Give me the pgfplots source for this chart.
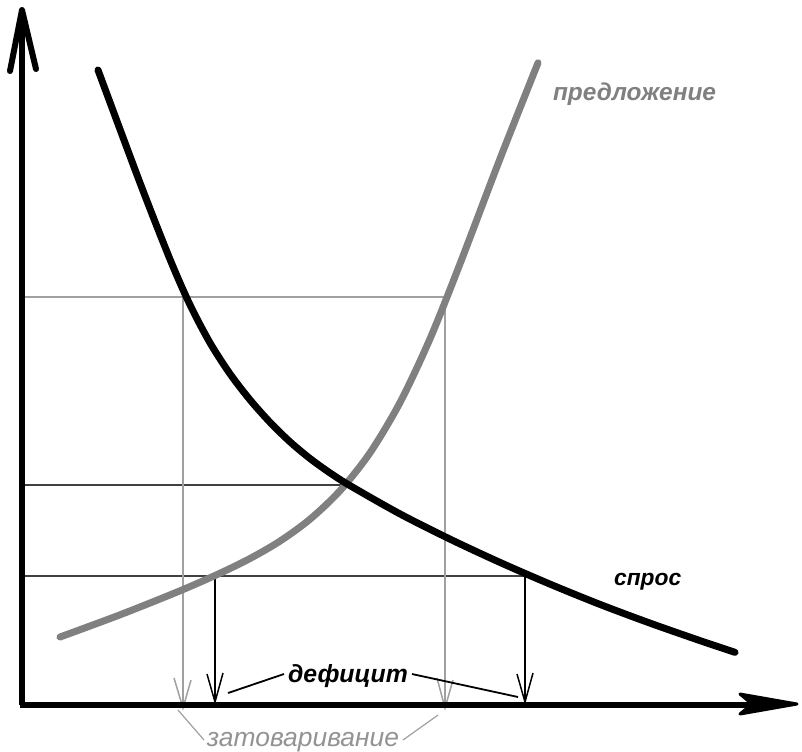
\documentclass[border=0pt]{standalone}
\usepackage{pgfplots}
\pgfplotsset{compat=1.18}
\usepackage{fontspec}
\setmainfont{Liberation Sans}
\definecolor{supgray}{HTML}{808080}
\definecolor{lgray}{HTML}{A0A0A0}
\definecolor{dgray}{HTML}{404040}
\begin{document}
\begin{tikzpicture}
\begin{axis}[
  name=ax,
  scale only axis, width=401pt, height=375.5pt,
  xmin=0, xmax=802, ymin=0, ymax=751, y dir=reverse,
  hide axis, clip=false,
]
% grid/helper lines
\addplot[lgray, line width=0.75pt] coordinates {(22,297) (447,297)};
\addplot[dgray, line width=0.75pt] coordinates {(22,485) (345,485)};
\addplot[dgray, line width=0.75pt] coordinates {(22,576) (526,576)};
\addplot[lgray, line width=0.75pt] coordinates {(183,297) (183,705)};
\addplot[lgray, line width=0.75pt] coordinates {(445,297) (445,705)};
\addplot[black, line width=0.75pt] coordinates {(215,576) (215,703)};
\addplot[black, line width=0.75pt] coordinates {(525,576) (525,703)};
% arrow heads (open V)
\addplot[lgray, line width=0.75pt] coordinates {(174,678) (183,708) (191,680)};
\addplot[lgray, line width=0.75pt] coordinates {(437,678) (445,708) (453,680)};
\addplot[black, line width=0.75pt] coordinates {(207,674) (215,702) (223,673)};
\addplot[black, line width=0.75pt] coordinates {(517,674) (525,702) (533,673)};
% label leader lines
\addplot[black, line width=0.9pt] coordinates {(228,693) (284,674)};
\addplot[black, line width=0.9pt] coordinates {(412,674) (518,697)};
\addplot[lgray, line width=0.6pt] coordinates {(178,710) (204,740)};
\addplot[lgray, line width=0.6pt] coordinates {(403,740) (438,715)};
% axes
\addplot[black, line width=3pt] coordinates {(22,12) (22,705)};
\addplot[black, line width=3pt] coordinates {(20,705) (760,705)};
\addplot[black, line width=3pt, line cap=round, line join=round] coordinates {(10,71) (22,10) (36,69)};
\addplot[black, fill=black, line width=1.5pt, line join=round] coordinates {(740,694) (797,704) (740,714) (752,704)} -- cycle;
% supply
\addplot[supgray, line width=3.5pt, smooth, line cap=round] coordinates {
(60,637) (120,614.8) (180,590.8) (220,573.2) (250,558.5) (280,541.1) (310,519.2)
(340,490.7) (370,452.8) (400,402.5) (430,338.8) (460,263.8) (500,158.8) (538,62.8)};
% demand
\addplot[black, line width=3.5pt, smooth, line cap=round] coordinates {
(98,70) (140,182.8) (170,259.3) (190,304.8) (210,342.8) (230,373.8) (250,399.8)
(270,422.3) (290,441.8) (310,458.5) (330,472.9) (350,485.6) (400,513.9) (450,539.1)
(500,562.4) (550,584.1) (600,604.4) (650,623.1) (700,640.6) (735,652.3)};
% labels
\node[font=\fontsize{12.4}{14}\selectfont\bfseries\itshape, anchor=base] at (axis cs:348,682) {дефицит};
\node[font=\fontsize{13.2}{14}\selectfont\itshape, text=supgray!85, anchor=base] at (axis cs:303,746) {затоваривание};
\node[font=\fontsize{12.2}{14}\selectfont\bfseries\itshape, text=supgray, anchor=base west] at (axis cs:546,100) {предложение};
\node[font=\fontsize{11.4}{14}\selectfont\bfseries\itshape, anchor=base west] at (axis cs:607,585) {спрос};
\end{axis}
\pgfresetboundingbox
\path (ax.south west) rectangle (ax.north east);
\end{tikzpicture}
\end{document}
